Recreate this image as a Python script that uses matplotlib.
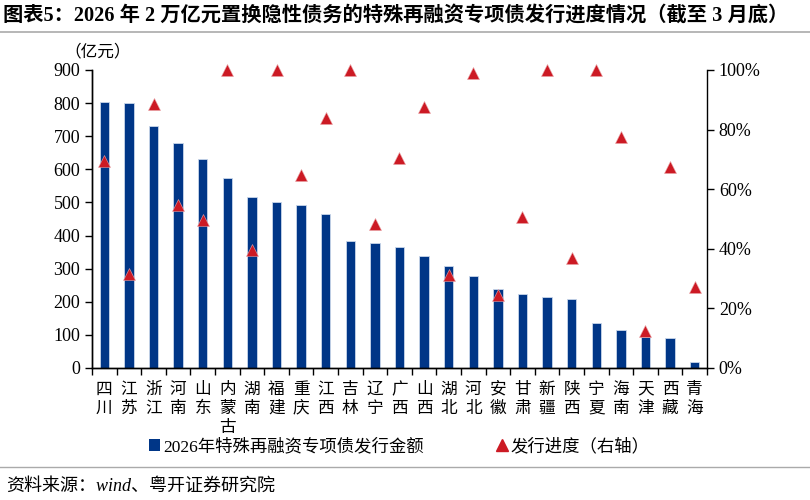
import matplotlib
matplotlib.use("Agg")

import matplotlib.pyplot as plt
import matplotlib.ticker as ticker
from matplotlib.lines import Line2D
from matplotlib.patches import Patch
import numpy as np

plt.rcParams["font.family"] = ["Liberation Serif", "Noto Sans CJK SC"]
plt.rcParams["axes.unicode_minus"] = False

provinces = ["四川", "江苏", "浙江", "河南", "山东", "内蒙古", "湖南", "福建", "重庆",
             "江西", "吉林", "辽宁", "广西", "山西", "湖北", "河北", "安徽", "甘肃",
             "新疆", "陕西", "宁夏", "海南", "天津", "西藏", "青海"]
amount = [802, 800, 730, 681, 630, 573, 516, 502, 492, 464, 384, 377, 365, 339,
          307, 279, 239, 224, 214, 209, 136, 116, 95, 92, 17]
progress = [69.3, 31.5, 88.7, 54.8, 49.7, 100, 39.6, 100, 64.7, 83.9, 100, 48.4,
            70.4, 87.7, 31.1, 99, 24.4, 50.6, 100, 36.8, 100, 77.4, 12.3, 67.6, 27.1]

bar_color = "#003687"
tri_color = "#CC1A24"

fig = plt.figure(figsize=(8.1, 5), dpi=100)
ax = fig.add_axes([0.1136, 0.264, 0.7592, 0.596])
ax2 = ax.twinx()

x = np.arange(len(provinces))
ax.bar(x, amount, width=0.38, color=bar_color, edgecolor="#c9d6ea", linewidth=0.6, zorder=2)
ax2.plot(x, np.array(progress) / 100, linestyle="none", marker="^", markersize=8.5,
         color=tri_color, markeredgecolor="#e9a3a6", markeredgewidth=0.4, zorder=3,
         clip_on=False)

ax.set_xlim(-0.5, len(provinces) - 0.5)
ax.set_ylim(0, 900)
ax2.set_ylim(0, 1)
ax.yaxis.set_major_locator(ticker.MultipleLocator(100))
ax2.yaxis.set_major_locator(ticker.MultipleLocator(0.2))
ax2.yaxis.set_major_formatter(ticker.FuncFormatter(lambda v, pos: f"{v * 100:.0f}%"))

ax.set_xticks(x)
ax.set_xticklabels(["\n".join(p) for p in provinces], fontsize=12, linespacing=1.25,
                   va="top")
ax.set_xticks(np.arange(-0.5, len(provinces)), minor=True)
ax.tick_params(axis="x", which="major", length=0, pad=10)
ax.tick_params(axis="x", which="minor", length=5, direction="out", width=1)
ax.tick_params(axis="y", length=5, direction="out", labelsize=13, width=1)
ax2.tick_params(axis="y", length=5, direction="out", labelsize=13, width=1)

for a in (ax, ax2):
    a.spines["top"].set_visible(False)
    for s in ("left", "right", "bottom"):
        a.spines[s].set_linewidth(1)
ax.spines["right"].set_visible(False)

fig.text(0.079, 0.896, "（亿元）", fontsize=12, ha="left", va="center")

handles = [Patch(facecolor=bar_color, edgecolor="none"),
           Line2D([], [], linestyle="none", marker="^", color=tri_color, markersize=8.5)]
fig.legend(handles, ["2026年特殊再融资专项债发行金额", "发行进度（右轴）"],
           loc="center left", bbox_to_anchor=(0.165, 0.106), ncol=2, frameon=False,
           fontsize=12.5, handlelength=0.6, handletextpad=0.2, columnspacing=4.2)

fig.text(0.004, 0.968, "图表5：2026 年 2 万亿元置换隐性债务的特殊再融资专项债发行进度情况（截至 3 月底）",
         fontsize=14.6, fontweight="bold", ha="left", va="center")
fig.add_artist(Line2D([0.0, 1.0], [0.936, 0.936], color="#aaaaaa", linewidth=1.2))
fig.add_artist(Line2D([0.0, 1.0], [0.066, 0.066], color="#aaaaaa", linewidth=1.0))
fig.text(0.008, 0.028, "资料来源：wind、粤开证券研究院", fontsize=13, style="italic",
         ha="left", va="center")

fig.savefig("out.png", dpi=100)
